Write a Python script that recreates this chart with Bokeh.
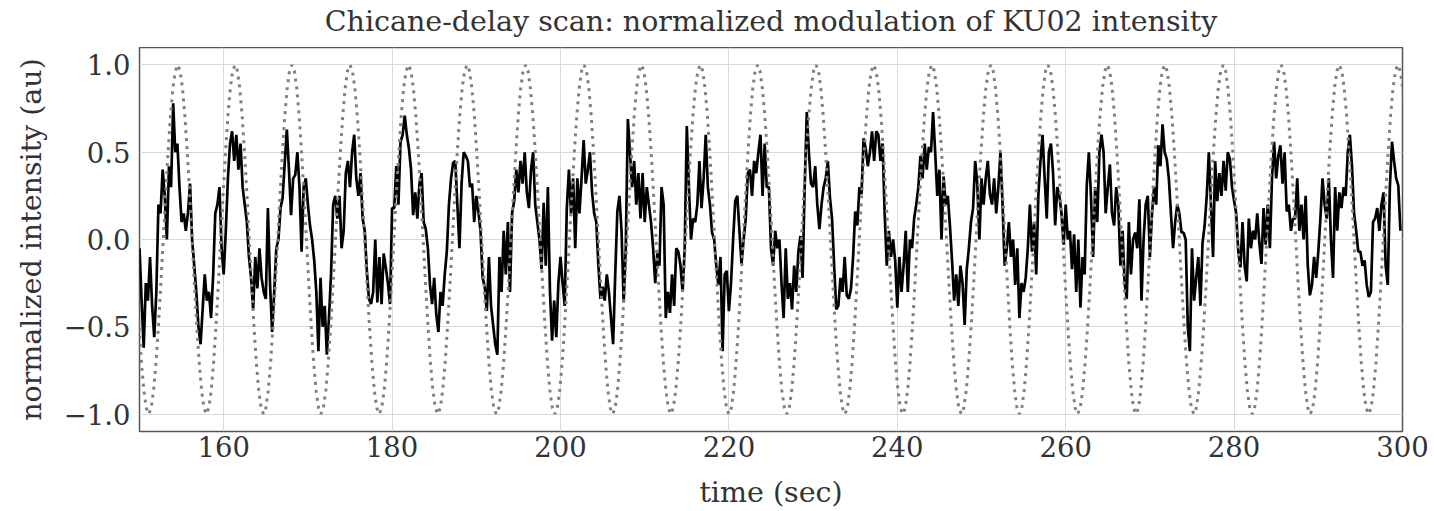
import numpy as np
from bokeh.plotting import figure
from bokeh.layouts import column
from bokeh.models import Range1d, FixedTicker, ColumnDataSource, CustomJSTickFormatter
from bokeh.core.properties import value
from bokeh.embed import file_html
from bokeh.resources import INLINE

# ---- data ----
# measured normalized intensity, sampled every 0.25 s from t = 150 s
sample_start = 150.0
sample_step = 0.25
seg1 = [-0.05, -0.35, -0.62, -0.25, -0.35, -0.1, -0.38, -0.56, -0.3, 0.2,
        0.15, 0.4, 0.25, 0.0, 0.42, 0.3, 0.78, 0.5, 0.55, 0.3,
        0.1, 0.15, 0.05, 0.15, 0.32, 0.0, -0.15, -0.3, -0.5, -0.6,
        -0.4, -0.2, -0.35, -0.3, -0.45, -0.2, 0.15, 0.2, 0.3, -0.05,
        -0.2, 0.05, 0.35, 0.55, 0.62, 0.45, 0.6, 0.4, 0.55, 0.3]
seg2 = [0.2, 0.1, -0.1, -0.22, -0.4, -0.1, -0.28, -0.05, -0.22, -0.3,
        -0.34, 0.18, -0.25, -0.53, -0.3, -0.05, 0.0, 0.18, 0.24, 0.44,
        0.63, 0.4, 0.14, 0.35, 0.37, 0.5, 0.3, -0.07, 0.3, 0.35,
        0.2, 0.08, 0.0, -0.12, -0.3, -0.64, -0.22, -0.5, -0.38, -0.66,
        -0.45, -0.2, 0.2, 0.25, 0.12, 0.25, -0.05, 0.05, 0.38, 0.45]
seg3 = [0.3, 0.5, 0.6, 0.35, 0.25, 0.38, 0.12, 0.05, -0.18, -0.34,
        -0.37, -0.3, 0.0, -0.36, -0.1, -0.37, -0.08, -0.16, -0.25, -0.37,
        0.18, 0.18, 0.42, 0.2, 0.56, 0.6, 0.71, 0.6, 0.52, 0.4,
        0.14, 0.27, 0.12, 0.32, 0.38, 0.1, 0.06, -0.05, -0.26, -0.37,
        -0.22, -0.43, -0.53, -0.3, -0.38, -0.2, -0.07, 0.2, 0.35, 0.44]
seg4 = [0.45, 0.2, -0.05, 0.32, 0.5, 0.48, 0.45, 0.3, 0.32, 0.1,
        0.25, 0.16, 0.05, -0.22, -0.27, -0.41, -0.1, -0.38, -0.49, -0.6,
        -0.66, -0.1, -0.3, 0.05, -0.2, 0.1, -0.3, 0.15, 0.22, 0.4,
        0.27, 0.45, 0.32, 0.5, 0.27, 0.18, 0.4, 0.5, 0.2, 0.1,
        0.0, -0.17, 0.21, -0.15, 0.3, -0.3, -0.58, -0.35, -0.56, -0.25]
seg5 = [-0.1, -0.25, -0.38, 0.18, 0.4, 0.15, 0.35, -0.05, 0.35, 0.15,
        0.35, 0.57, 0.32, 0.4, 0.5, 0.27, 0.15, 0.1, -0.15, -0.34,
        -0.27, -0.35, -0.2, -0.3, -0.45, -0.6, -0.2, 0.16, 0.25, 0.05,
        -0.36, -0.05, 0.69, 0.5, 0.3, 0.45, 0.2, 0.38, 0.12, 0.38,
        0.1, 0.3, 0.2, 0.1, -0.05, -0.25, -0.08, -0.15, 0.3]
seg6 = [0.2, -0.45, -0.3, -0.42, -0.2, -0.38, -0.05, -0.07, -0.15, -0.3,
        -0.05, 0.65, 0.3, 0.0, 0.12, 0.1, 0.2, 0.45, 0.18, 0.35,
        0.6, 0.3, 0.2, 0.04, 0.0, -0.15, -0.26, -0.1, -0.64, -0.2,
        -0.18, -0.41, -0.25, 0.0, 0.22, 0.25, 0.05, -0.14, 0.0, 0.12,
        0.38, 0.4, 0.25, 0.45, 0.38, 0.5, 0.6, 0.25, 0.55, 0.3]
seg7 = [0.3, -0.05, -0.15, 0.05, -0.05, 0.0, -0.25, -0.45, -0.05, -0.34,
        -0.25, -0.4, -0.15, -0.3, -0.07, 0.02, -0.22, 0.3, 0.73, 0.5,
        0.32, 0.3, 0.42, 0.2, 0.06, 0.2, 0.3, 0.35, 0.45, 0.24,
        0.12, -0.15, -0.4, -0.38, -0.22, -0.3, -0.1, -0.32, -0.34, -0.28,
        -0.1, 0.16, 0.08, 0.3, 0.26, 0.58, 0.52, 0.42, 0.5, 0.62]
seg8 = [0.45, 0.62, 0.6, 0.45, 0.55, 0.15, -0.15, 0.05, -0.1, 0.0,
        -0.12, -0.39, -0.1, -0.3, -0.15, 0.05, -0.3, 0.0, -0.05, 0.12,
        0.2, 0.3, 0.48, 0.35, 0.55, 0.4, 0.53, 0.5, 0.73, 0.5,
        0.25, 0.4, 0.0, 0.36, 0.2, 0.25, 0.08, -0.12, -0.35, -0.2,
        -0.38, -0.15, -0.25, -0.49, -0.17, -0.05, 0.1, 0.18, 0.45, 0.32]
seg9 = [0.0, 0.35, 0.2, 0.35, 0.45, 0.26, 0.2, 0.35, 0.15, 0.3,
        0.5, 0.2, -0.15, -0.05, 0.1, -0.1, 0.0, -0.26, -0.05, -0.45,
        -0.25, -0.3, -0.22, -0.05, 0.2, -0.07, 0.1, -0.2, 0.25, 0.45,
        0.6, 0.35, 0.12, 0.5, 0.55, 0.38, 0.08, 0.3, 0.25, 0.15,
        -0.03, 0.2, 0.0, 0.05, -0.17, 0.03, -0.3, 0.0, -0.39, -0.1]
seg10 = [-0.2, 0.31, 0.5, 0.25, -0.1, 0.3, 0.1, 0.5, 0.6, 0.5,
         0.15, 0.3, 0.43, 0.15, 0.08, 0.3, 0.2, -0.15, 0.05, -0.25,
         -0.34, 0.1, -0.2, 0.0, 0.04, -0.05, 0.23, -0.35, 0.0, 0.2,
         0.25, -0.1, 0.15, 0.3, 0.2, 0.54, 0.42, 0.66, 0.5, 0.46,
         0.35, 0.15, -0.05, 0.1, 0.2, 0.15, 0.04, 0.04, 0.0, -0.5]
seg11 = [-0.64, -0.05, -0.35, -0.22, -0.1, -0.38, -0.02, 0.08, 0.25, 0.5,
         0.2, -0.1, 0.45, 0.22, 0.38, 0.25, 0.45, 0.28, 0.5, 0.46,
         0.3, 0.22, 0.15, -0.07, -0.16, 0.1, -0.15, -0.24, 0.12, -0.05,
         0.05, 0.0, 0.15, -0.02, -0.14, 0.18, -0.03, 0.2, -0.05, 0.35,
         0.56, 0.35, 0.48, 0.54, 0.32, 0.5, 0.16, 0.2, 0.05, 0.12]
seg12 = [0.12, 0.35, 0.05, 0.2, 0.0, 0.25, -0.15, -0.32, -0.26, -0.1,
         -0.22, -0.07, 0.12, 0.35, 0.2, 0.12, 0.35, 0.0, -0.22, 0.3,
         0.05, 0.27, 0.18, 0.3, 0.25, 0.5, 0.6, 0.42, 0.15, 0.05,
         -0.07, -0.07, -0.15, -0.12, -0.26, -0.33, -0.3, 0.1, 0.12, 0.18,
         0.05, 0.2, 0.27, -0.15, -0.26, 0.3, 0.56, 0.45, 0.35, 0.31,
         0.05]

# dotted reference modulation: times of its maxima
ref_peak_times = [147.65, 154.54, 161.35, 168.1, 175.0, 181.95, 188.9, 195.85,
                  202.8, 209.6, 216.6, 223.4, 230.35, 237.2, 244.1, 251.1,
                  257.9, 264.95, 271.75, 278.7, 285.6, 292.5, 299.45, 306.35]
# one cycle of the reference curve (maximum to next maximum), 24 samples
ref_cycle = [1.0, 0.966, 0.866, 0.707, 0.5, 0.259, 0.0, -0.259, -0.5, -0.707,
             -0.866, -0.966, -1.0, -0.966, -0.866, -0.707, -0.5, -0.259, 0.0,
             0.259, 0.5, 0.707, 0.866, 0.966]

x_ticks = [160, 180, 200, 220, 240, 260, 280, 300]
y_ticks = [-1.0, -0.5, 0.0, 0.5, 1.0]
title_text = "Chicane-delay scan: normalized modulation of KU02 intensity"

# ---- build sources ----
intensity = np.array(seg1 + seg2 + seg3 + seg4 + seg5 + seg6 + seg7 + seg8 +
                     seg9 + seg10 + seg11 + seg12)
t_meas = sample_start + sample_step * np.arange(len(intensity))
meas_src = ColumnDataSource(dict(t=t_meas, v=intensity))

ref_t, ref_v = [], []
for a, b in zip(ref_peak_times[:-1], ref_peak_times[1:]):
    ref_t.extend(np.linspace(a, b, len(ref_cycle), endpoint=False))
    ref_v.extend(ref_cycle)
ref_t.append(ref_peak_times[-1])
ref_v.append(ref_cycle[0])
ref_src = ColumnDataSource(dict(t=ref_t, v=ref_v))

FONT = "DejaVu Serif"
TXT = "#333333"
W = 1434
TOP_H = 47
MAIN_H = 511 - TOP_H
x_range = Range1d(150, 300)

# ---- title strip (same horizontal borders as the plot, so it centres on the frame) ----
head = figure(width=W, height=TOP_H, output_backend="svg", toolbar_location=None,
              x_range=x_range, y_range=Range1d(0, TOP_H),
              x_axis_location=None, y_axis_location=None,
              min_border_left=139, min_border_right=32, min_border_top=0,
              min_border_bottom=0)
head.outline_line_color = None
head.xgrid.visible = False
head.ygrid.visible = False
head.background_fill_color = "white"
head.border_fill_color = "white"
head.text(x=[(x_range.start + x_range.end) / 2], y=[TOP_H - 21], text=[title_text],
          text_font=value(FONT), text_font_size="28.5px", text_color=TXT,
          text_align="center", text_baseline="alphabetic")

# ---- main plot ----
p = figure(width=W, height=MAIN_H, output_backend="svg", toolbar_location=None,
           x_range=x_range, y_range=Range1d(-1.1, 1.1),
           min_border_left=139, min_border_right=32, min_border_top=0,
           min_border_bottom=80)
p.background_fill_color = "white"
p.border_fill_color = "white"
p.outline_line_color = "#555555"
p.outline_line_width = 1.5

p.line("t", "v", source=meas_src, line_color="black", line_width=2.7)
p.line("t", "v", source=ref_src, line_color="#808080", line_width=3,
       line_dash="3 5")

p.xaxis.ticker = FixedTicker(ticks=x_ticks)
p.yaxis.ticker = FixedTicker(ticks=y_ticks)
p.yaxis.formatter = CustomJSTickFormatter(code="return tick.toFixed(1).replace('-', '\u2212');")
p.xaxis.axis_label = "time (sec)"
p.yaxis.axis_label = "normalized intensity (au)"
for ax in (p.xaxis, p.yaxis):
    ax.axis_line_color = None
    ax.major_tick_line_color = None
    ax.minor_tick_line_color = None
    ax.major_tick_out = 0
    ax.major_tick_in = 0
    ax.minor_tick_out = 0
    ax.minor_tick_in = 0
    ax.major_label_text_font = FONT
    ax.major_label_text_font_size = "27.5px"
    ax.major_label_text_color = TXT
    ax.axis_label_text_font = FONT
    ax.axis_label_text_font_size = "28.5px"
    ax.axis_label_text_font_style = "normal"
    ax.axis_label_text_color = TXT
p.xaxis.major_label_standoff = 4
p.yaxis.major_label_standoff = 9
p.xaxis.axis_label_standoff = 16
p.yaxis.axis_label_standoff = 13

p.xgrid.grid_line_color = "#d9d9d9"
p.ygrid.grid_line_color = "#d9d9d9"
p.xgrid.grid_line_width = 1
p.ygrid.grid_line_width = 1

layout = column(head, p, spacing=0)
open("out.html", "w").write(file_html(layout, INLINE))
